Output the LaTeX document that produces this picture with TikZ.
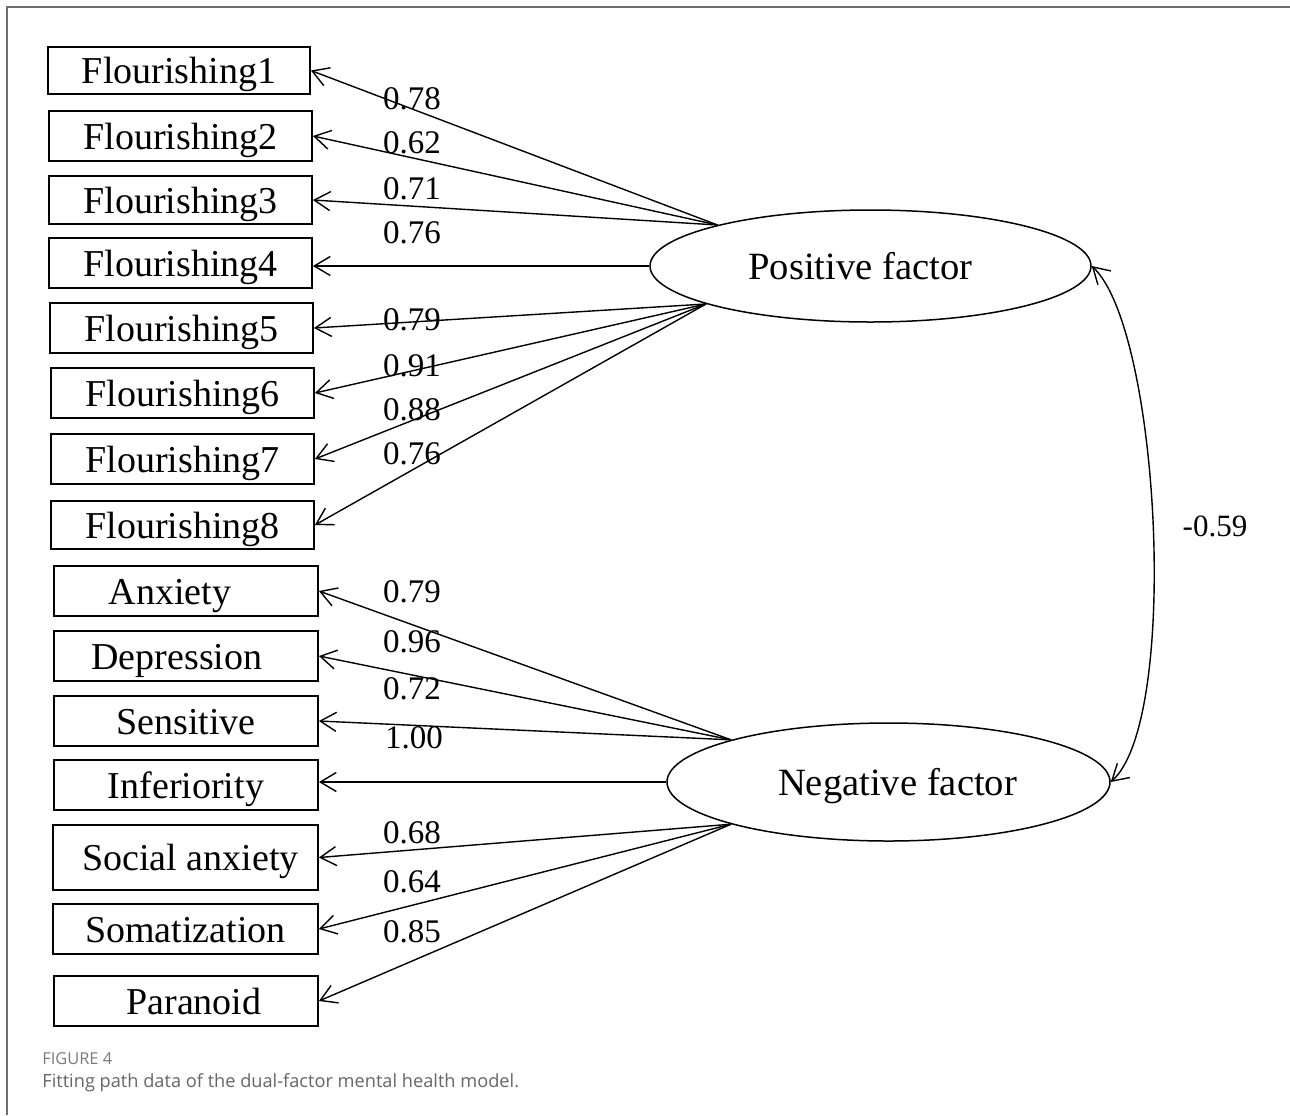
\documentclass[tikz,border=0pt]{standalone}
\usepackage{fontspec}
\setmainfont{Liberation Serif}
\newfontfamily\capfont{Open Sans}
\usetikzlibrary{shapes.geometric,arrows.meta}
\definecolor{framegray}{HTML}{6E6E6E}
\definecolor{capgray}{HTML}{7A7A7A}
\definecolor{captext}{HTML}{666666}
\begin{document}
\begin{tikzpicture}[x=0.5pt,y=-0.5pt,
  var/.style={draw,line width=0.9pt,inner sep=0pt,text height=17pt,text depth=4pt,
    minimum height=25pt,font=\fontsize{19}{21}\selectfont},
  lat/.style={draw,ellipse,line width=0.75pt,inner sep=0pt,text height=17pt,text depth=4pt,
    font=\fontsize{19.3}{21}\selectfont},
  load/.style={line width=0.7pt,-{Straight Barb[length=8pt,width=9.5pt,line width=0.7pt]}},
  corr/.style={line width=0.7pt,{Straight Barb[length=8pt,width=9.5pt,line width=0.7pt]}-{Straight Barb[length=8pt,width=9.5pt,line width=0.7pt]}},
  coef/.style={font=\fontsize{16.5}{18}\selectfont,inner sep=0pt},
]
\useasboundingbox (0,0) rectangle (1290,1115);
\fill[white] (0,0) rectangle (1290,1115);
\draw[line width=0.8pt,color=framegray] (7,1115) -- (7,7) -- (1290,7);

% observed variables (positive)
\node[var,minimum width=131pt,minimum height=23.5pt] (f1) at (179,70.5) {Flourishing1};
\node[var,minimum width=131.5pt] (f2) at (180.5,136) {Flourishing2};
\node[var,minimum width=131.5pt,minimum height=24pt] (f3) at (180.5,200) {Flourishing3};
\node[var,minimum width=131.5pt] (f4) at (180.5,263) {Flourishing4};
\node[var,minimum width=131.5pt] (f5) at (181.5,328) {Flourishing5};
\node[var,minimum width=131.5pt] (f6) at (182.5,393) {Flourishing6};
\node[var,minimum width=131.5pt] (f7) at (182.5,459) {Flourishing7};
\node[var,minimum width=131.5pt,minimum height=24pt] (f8) at (182.5,525) {Flourishing8};

% observed variables (negative)
\node[var,minimum width=132pt] (anx) at (186,591) {Anxiety\hspace*{16pt}};
\node[var,minimum width=132pt] (dep) at (186,656) {Depression\hspace*{9pt}};
\node[var,minimum width=132pt] (sen) at (186,721) {Sensitive};
\node[var,minimum width=132pt] (inf) at (186,785) {Inferiority};
\node[var,minimum width=132.5pt,minimum height=32.5pt] (soc) at (185.5,857.5) {\hspace*{5pt}Social anxiety};
\node[var,minimum width=132.5pt] (som) at (185.5,929) {Somatization};
\node[var,minimum width=132pt] (par) at (186,1001) {\hspace*{8pt}Paranoid};

% latent factors
\node[lat,minimum width=220.5pt,minimum height=56pt] (pos) at (870.5,266) {Positive factor\hspace*{10pt}};
\node[lat,minimum width=221.5pt,minimum height=59pt] (neg) at (888.5,782) {\hspace*{9pt}Negative factor};

% loadings positive
\draw[load] (pos.165.9) -- (f1.east);
\draw[load] (pos.165.9) -- (f2.east);
\draw[load] (pos.165.9) -- (f3.east);
\draw[load] (pos.west) -- (pos.west -| f4.east);
\draw[load] (pos.193.8) -- (f5.east);
\draw[load] (pos.193.8) -- (f6.east);
\draw[load] (pos.193.8) -- (f7.east);
\draw[load] (pos.193.8) -- (f8.east);

% loadings negative
\draw[load] (neg.165.2) -- (anx.east);
\draw[load] (neg.165.2) -- (dep.east);
\draw[load] (neg.165.2) -- (sen.east);
\draw[load] (neg.west) -- (neg.west -| inf.east);
\draw[load] (neg.195.2) -- (soc.east);
\draw[load] (neg.195.2) -- (som.east);
\draw[load] (neg.195.2) -- (par.east);

% coefficients
\node[coef] (c1) at (412,99) {0.78};
\node[coef] (c2) at (412,143) {0.62};
\node[coef] (c3) at (412,189) {0.71};
\node[coef] (c4) at (412,233) {0.76};
\node[coef] (c5) at (412,320) {0.79};
\node[coef] (c6) at (412,366) {0.91};
\node[coef] (c7) at (412,410) {0.88};
\node[coef] (c8) at (412,454) {0.76};
\node[coef] (d1) at (412,592) {0.79};
\node[coef] (d2) at (412,642) {0.96};
\node[coef] (d3) at (412,689) {0.72};
\node[coef] (d4) at (414,738) {1.00};
\node[coef] (d5) at (412,833) {0.68};
\node[coef] (d6) at (412,882) {0.64};
\node[coef] (d7) at (412,932) {0.85};

% correlation
\draw[corr] (pos.east) .. controls (1160,330) and (1180,720) .. (neg.east);
\node[font=\fontsize{15.5}{17}\selectfont,inner sep=0pt] (r) at (1215,526) {-0.59};

% caption
\node[anchor=west,inner sep=0pt,font=\capfont\fontsize{8.2}{9}\selectfont,text=capgray] (figlab) at (42,1059) {FIGURE 4};
\node[anchor=west,inner sep=0pt,font=\capfont\fontsize{9.1}{10}\selectfont,text=captext] (figcap) at (42,1083) {Fitting path data of the dual-factor mental health model.};
\end{tikzpicture}
\end{document}
